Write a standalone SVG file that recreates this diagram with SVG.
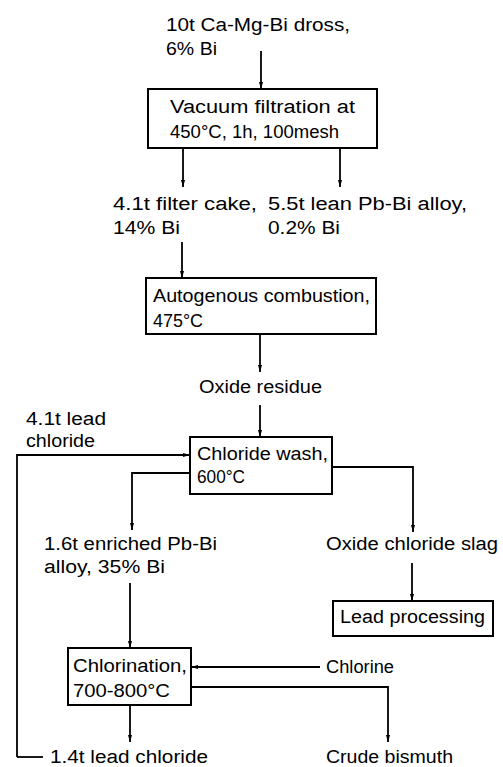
<svg xmlns="http://www.w3.org/2000/svg" width="503" height="767" viewBox="0 0 503 767">
<style>
text{font-family:"Liberation Sans",Arial,sans-serif;font-size:18px;fill:#000}
.box{fill:#fff;stroke:#000;stroke-width:2}
.ln{fill:none;stroke:#000;stroke-width:1.8}
</style>
<defs>
<marker id="ah" markerWidth="7" markerHeight="12" refX="12" refY="3.5" viewBox="0 0 12 7" markerUnits="userSpaceOnUse" orient="auto">
<path d="M0,0 L12,3.5 L0,7 z" fill="#000"/>
</marker>
</defs>
<rect width="503" height="767" fill="#fff"/>
<g id="connectors">
<path class="ln" d="M261,51 V89" marker-end="url(#ah)"/>
<path class="ln" d="M183,148 V187" marker-end="url(#ah)"/>
<path class="ln" d="M340,148 V187" marker-end="url(#ah)"/>
<path class="ln" d="M182,242 V278" marker-end="url(#ah)"/>
<path class="ln" d="M260,334 V372" marker-end="url(#ah)"/>
<path class="ln" d="M260,405 V437" marker-end="url(#ah)"/>
<path class="ln" d="M17,757 V455 H190" marker-end="url(#ah)"/>
<path class="ln" d="M17,757 H43"/>
<path class="ln" d="M190,473 H132 V530" marker-end="url(#ah)"/>
<path class="ln" d="M332,467 H413 V532" marker-end="url(#ah)"/>
<path class="ln" d="M412,563 V601" marker-end="url(#ah)"/>
<path class="ln" d="M130,583 V648" marker-end="url(#ah)"/>
<path class="ln" d="M320,667 H191" marker-end="url(#ah)"/>
<path class="ln" d="M191,687 H388 V742" marker-end="url(#ah)"/>
<path class="ln" d="M130,705 V742" marker-end="url(#ah)"/>
</g>
<g id="feed">
<text x="166" y="31" textLength="184" lengthAdjust="spacingAndGlyphs">10t Ca-Mg-Bi dross,</text>
<text x="166" y="55" textLength="51" lengthAdjust="spacingAndGlyphs">6% Bi</text>
</g>
<g id="vacuum">
<rect class="box" x="148" y="89" width="229" height="59"/>
<text x="170" y="113" textLength="185" lengthAdjust="spacingAndGlyphs">Vacuum filtration at</text>
<text x="170" y="138" textLength="169" lengthAdjust="spacingAndGlyphs">450°C, 1h, 100mesh</text>
</g>
<g id="filtercake">
<text x="113" y="210" textLength="144" lengthAdjust="spacingAndGlyphs">4.1t filter cake,</text>
<text x="113" y="234" textLength="67" lengthAdjust="spacingAndGlyphs">14% Bi</text>
</g>
<g id="leanalloy">
<text x="268" y="210" textLength="199" lengthAdjust="spacingAndGlyphs">5.5t lean Pb-Bi alloy,</text>
<text x="268" y="234" textLength="72" lengthAdjust="spacingAndGlyphs">0.2% Bi</text>
</g>
<g id="combustion">
<rect class="box" x="146" y="278" width="230" height="56"/>
<text x="153" y="302" textLength="217" lengthAdjust="spacingAndGlyphs">Autogenous combustion,</text>
<text x="153" y="327" textLength="50" lengthAdjust="spacingAndGlyphs">475°C</text>
</g>
<g id="oxideresidue">
<text x="199" y="393" textLength="123" lengthAdjust="spacingAndGlyphs">Oxide residue</text>
</g>
<g id="leadchloridein">
<text x="26" y="425" textLength="80" lengthAdjust="spacingAndGlyphs">4.1t lead</text>
<text x="26" y="447" textLength="69" lengthAdjust="spacingAndGlyphs">chloride</text>
</g>
<g id="chloridewash">
<rect class="box" x="190" y="437" width="142" height="57"/>
<text x="197" y="460" textLength="131" lengthAdjust="spacingAndGlyphs">Chloride wash,</text>
<text x="197" y="483" textLength="48" lengthAdjust="spacingAndGlyphs">600°C</text>
</g>
<g id="enriched">
<text x="44" y="550" textLength="173" lengthAdjust="spacingAndGlyphs">1.6t enriched Pb-Bi</text>
<text x="44" y="573" textLength="121" lengthAdjust="spacingAndGlyphs">alloy, 35% Bi</text>
</g>
<g id="slag">
<text x="326" y="550" textLength="172" lengthAdjust="spacingAndGlyphs">Oxide chloride slag</text>
</g>
<g id="leadprocessing">
<rect class="box" x="333" y="601" width="160" height="35"/>
<text x="340" y="623" textLength="145" lengthAdjust="spacingAndGlyphs">Lead processing</text>
</g>
<g id="chlorination">
<rect class="box" x="68" y="648" width="123" height="57"/>
<text x="73" y="672" textLength="114" lengthAdjust="spacingAndGlyphs">Chlorination,</text>
<text x="73" y="697" textLength="97" lengthAdjust="spacingAndGlyphs">700-800°C</text>
</g>
<g id="chlorine">
<text x="326" y="673" textLength="68" lengthAdjust="spacingAndGlyphs">Chlorine</text>
</g>
<g id="leadchlorideout">
<text x="50" y="763" textLength="158" lengthAdjust="spacingAndGlyphs">1.4t lead chloride</text>
</g>
<g id="crudebismuth">
<text x="326" y="763" textLength="127" lengthAdjust="spacingAndGlyphs">Crude bismuth</text>
</g>
</svg>
